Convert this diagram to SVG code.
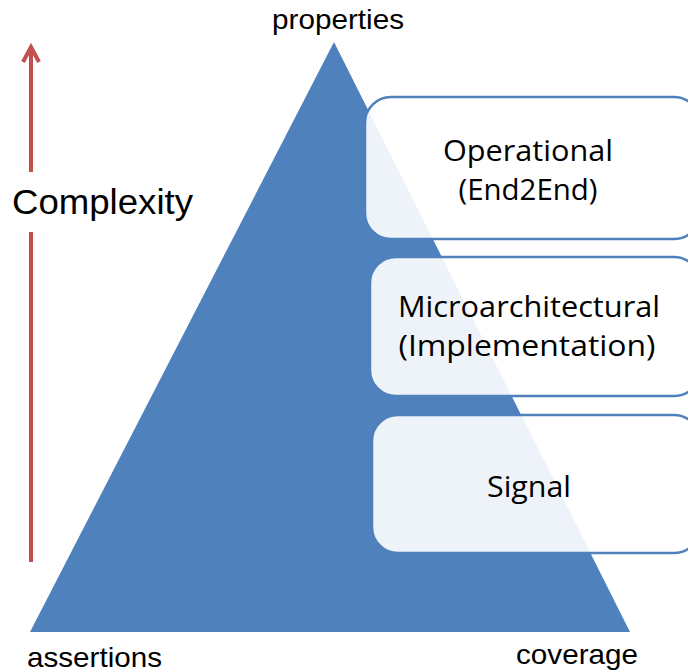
<svg xmlns="http://www.w3.org/2000/svg" width="688" height="672" viewBox="0 0 688 672">
<style>
.lbl{font-family:"Liberation Sans",Arial,sans-serif;fill:#000}
.box{fill:#ffffff;fill-opacity:0.9;stroke:#4f81bd;stroke-width:2.5}
.bt{font-family:"Open Sans","Noto Sans",sans-serif;font-size:30px;fill:#000;text-anchor:middle}
.arr{stroke:#c0504d;stroke-width:4;fill:none}
</style>
<rect width="688" height="672" fill="#fff"/>
<g id="pyramid">
<polygon points="334,42 630,632 30,632" fill="#4f81bd"/>
</g>
<text class="lbl" x="338" y="29" font-size="28" text-anchor="middle" textLength="132" lengthAdjust="spacingAndGlyphs">properties</text>
<text class="lbl" x="27" y="667" font-size="28" textLength="135" lengthAdjust="spacingAndGlyphs">assertions</text>
<text class="lbl" x="516" y="664" font-size="28" textLength="122" lengthAdjust="spacingAndGlyphs">coverage</text>
<g id="connectors">
<line class="arr" x1="31" y1="46" x2="31" y2="172"/>
<line class="arr" x1="31" y1="232" x2="31" y2="562"/>
<polyline class="arr" points="23,62 31,47 39,62" stroke-linejoin="miter"/>
</g>
<text class="lbl" x="12" y="214" font-size="35" textLength="181" lengthAdjust="spacingAndGlyphs">Complexity</text>
<g id="operational">
<rect class="box" x="365" y="97" width="335" height="142" rx="26"/>
<text class="bt" x="528" y="161" textLength="170" lengthAdjust="spacingAndGlyphs">Operational</text>
<text class="bt" x="528" y="200" textLength="139" lengthAdjust="spacingAndGlyphs">(End2End)</text>
</g>
<g id="microarchitectural">
<rect class="box" x="370" y="257" width="330" height="139" rx="26"/>
<text class="bt" x="529" y="317" textLength="262" lengthAdjust="spacingAndGlyphs">Microarchitectural</text>
<text class="bt" x="527" y="356" textLength="257" lengthAdjust="spacingAndGlyphs">(Implementation)</text>
</g>
<g id="signal">
<rect class="box" x="372" y="415" width="328" height="138" rx="26"/>
<text class="bt" x="529" y="497" textLength="84" lengthAdjust="spacingAndGlyphs">Signal</text>
</g>
</svg>
